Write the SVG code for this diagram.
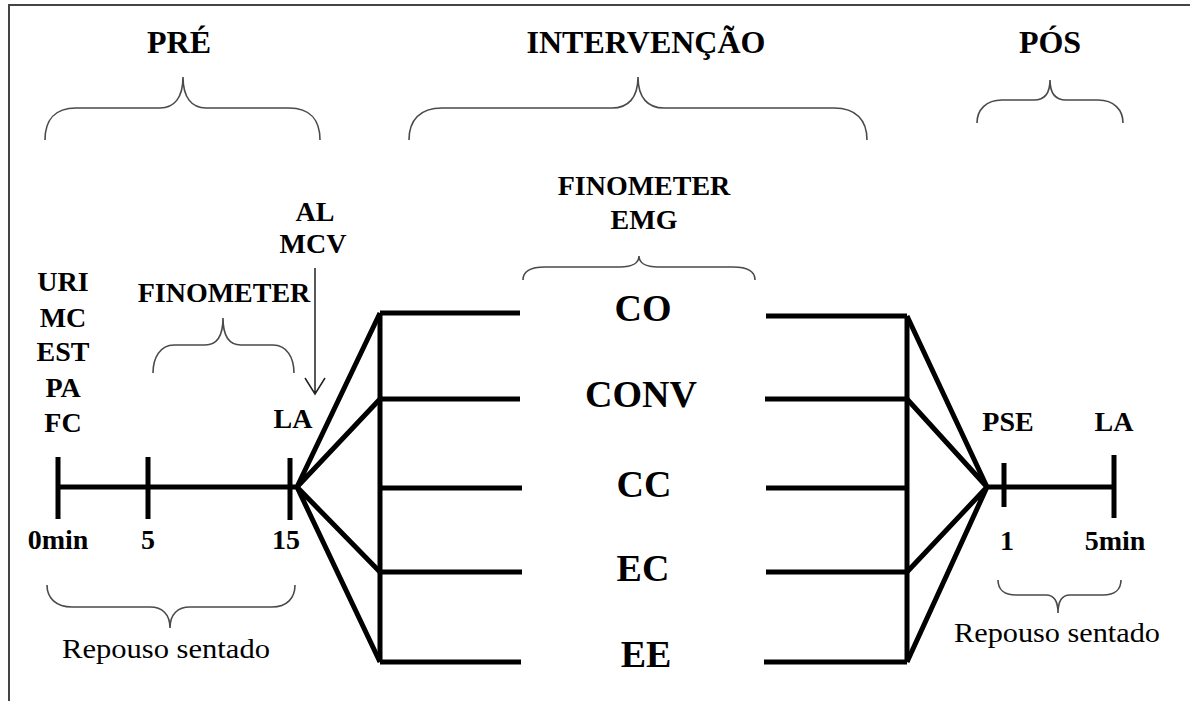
<svg xmlns="http://www.w3.org/2000/svg" width="1190" height="701" viewBox="0 0 1190 701">
<style>
.t{font-family:"Liberation Serif","Times New Roman",serif;font-weight:bold;fill:#000;text-anchor:middle}
.h{font-size:32px}
.s{font-size:28px}
.m{font-size:38px}
.r{font-family:"Liberation Serif","Times New Roman",serif;font-size:27px;fill:#000;text-anchor:middle}
.br{fill:none;stroke:#4a4a4a;stroke-width:1.6}
.k{fill:none;stroke:#000;stroke-width:5;stroke-linecap:butt;stroke-linejoin:miter}
.thin{fill:none;stroke:#222;stroke-width:1.5}
.frame{fill:none;stroke:#444;stroke-width:2}
</style>
<rect width="1190" height="701" fill="#fff"/>
<path class="frame" d="M9,701 V5 H1190"/>

<g id="pre">
<text class="t h" x="179" y="53">PRÉ</text>
<path class="br" d="M45,140 C45,120 55,108 76,108 L160,108 C174,108 183,98 183,77 C183,98 192,108 206,108 L289,108 C310,108 320,120 320,140"/>
</g>
<g id="intervencao">
<text class="t h" x="646" y="53">INTERVENÇÃO</text>
<path class="br" d="M409,140 C409,120 420,108 442,108 L612,108 C628,108 638,98 638,77 C638,98 648,108 664,108 L834,108 C856,108 867,120 867,140"/>
</g>
<g id="pos">
<text class="t h" x="1050" y="53">PÓS</text>
<path class="br" d="M977,123 C977,110 986,100 1002,100 L1034,100 C1044,100 1050,94 1050,80 C1050,94 1056,100 1066,100 L1098,100 C1114,100 1123,110 1123,123"/>
</g>

<g id="pre-labels">
<text class="t s" x="63" y="291">URI</text>
<text class="t s" x="63" y="327">MC</text>
<text class="t s" x="63" y="361">EST</text>
<text class="t s" x="63" y="397">PA</text>
<text class="t s" x="63" y="432">FC</text>
</g>
<g id="finometer-pre">
<text class="t s" x="224" y="302">FINOMETER</text>
<path class="br" d="M153,373 C153,358 160,345 174,345 L205,345 C215,345 223,338 223,318 C223,338 231,345 241,345 L273,345 C287,345 294,358 294,373"/>
</g>
<g id="al-mcv">
<text class="t s" x="315" y="221">AL</text>
<text class="t s" x="313" y="253">MCV</text>
</g>
<g id="la-pre">
<text class="t s" x="293" y="428">LA</text>
</g>
<g id="ticks-pre">
<text class="t s" x="58" y="549">0min</text>
<text class="t s" x="148" y="549">5</text>
<text class="t s" x="286" y="549">15</text>
</g>
<g id="repouso-pre">
<path class="br" d="M47,585 C47,598 56,607 72,607 L150,607 C162,607 170,614 170,628 C170,614 178,607 190,607 L272,607 C287,607 295,598 295,585"/>
<text class="r" x="166" y="658" textLength="208" lengthAdjust="spacingAndGlyphs">Repouso sentado</text>
</g>

<g id="finometer-emg">
<text class="t s" x="644" y="195">FINOMETER</text>
<text class="t s" x="644" y="229">EMG</text>
<path class="br" d="M523,280 C523,272 530,267 545,267 L620,267 C632,267 639,263 639,256 C639,263 646,267 658,267 L733,267 C748,267 755,272 755,280"/>
</g>

<g id="co"><text class="t m" x="643" y="321">CO</text></g>
<g id="conv"><text class="t m" x="641" y="407">CONV</text></g>
<g id="cc"><text class="t m" x="644" y="497">CC</text></g>
<g id="ec"><text class="t m" x="643" y="581">EC</text></g>
<g id="ee"><text class="t m" x="646" y="667">EE</text></g>

<g id="pos-labels">
<text class="t s" x="1008" y="431">PSE</text>
<text class="t s" x="1114" y="431">LA</text>
<text class="t s" x="1007" y="550">1</text>
<text class="t s" x="1115" y="550">5min</text>
</g>
<g id="repouso-pos">
<path class="br" d="M998,580 C998,589 1004,595 1016,595 L1046,595 C1054,595 1058,601 1058,613 C1058,601 1062,595 1070,595 L1103,595 C1115,595 1121,589 1121,580"/>
<text class="r" x="1057" y="642" textLength="206" lengthAdjust="spacingAndGlyphs">Repouso sentado</text>
</g>

<g id="connectors">
<path class="k" d="M58,487 H297"/>
<path class="k" d="M58,457 V519 M148,457 V519 M290,458 V520"/>
<path class="thin" d="M315,268 V394 M305,378 L315,394 L325,378"/>
<path class="k" d="M297,487 L380,313 M297,487 L380,399 M297,487 L380,572 M297,487 L380,662"/>
<path class="k" d="M380,313 V662"/>
<path class="k" d="M380,313 H520 M380,399 H520 M380,488 H522 M380,572 H522 M380,662 H521"/>
<path class="k" d="M766,316 H907 M765,399 H907 M766,488 H907 M766,572 H907 M764,662 H907"/>
<path class="k" d="M907,316 V662"/>
<path class="k" d="M987,487 L907,316 M987,487 L907,399 M987,487 L907,572 M987,487 L907,662"/>
<path class="k" d="M985,487 H1114"/>
<path class="k" d="M1004,463 V507 M1114,455 V518"/>
</g>
</svg>
